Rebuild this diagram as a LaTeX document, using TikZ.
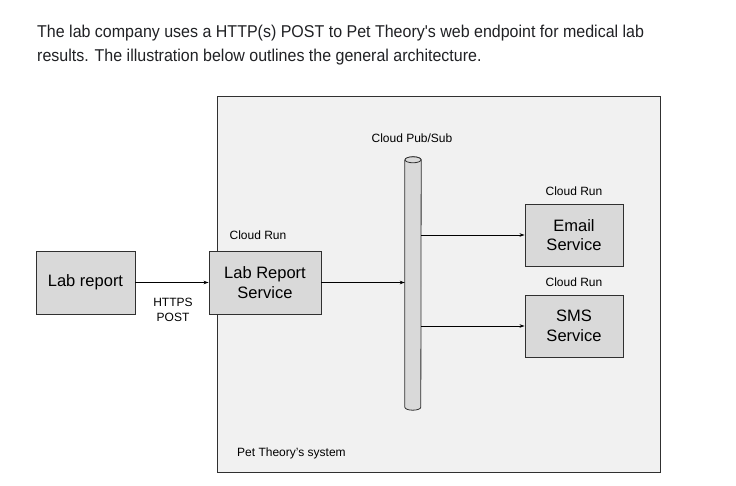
\documentclass[tikz,border=0pt]{standalone}
\usepackage{fontspec}
\setmainfont{Liberation Sans}
\usetikzlibrary{arrows.meta}
\definecolor{sysfill}{HTML}{F1F1F1}
\definecolor{boxfill}{HTML}{D9D9D9}
\definecolor{edge}{HTML}{303030}
\definecolor{headtext}{HTML}{202124}
\begin{document}
\begin{tikzpicture}[x=1pt,y=-1pt,
  svc/.style={draw=edge, line width=0.9pt, fill=boxfill, align=center, inner sep=0pt,
    font=\fontsize{16.5}{19.5}\selectfont},
  small/.style={font=\fontsize{12}{15}\selectfont, inner sep=0pt},
  conn/.style={draw=black, line width=0.8pt, -{Stealth[length=5pt,width=3.5pt]}},
  head/.style={font=\fontsize{16}{20}\selectfont, text=headtext, inner sep=0pt, anchor=base west}]
\useasboundingbox (0,0) rectangle (736,486);
\fill[white] (0,0) rectangle (736,486);
% header
\node[head] (h1) at (37,38) {\scalebox{1}[1.07]{The lab company uses a HTTP(s) POST to Pet Theory\textquotesingle s web endpoint for medical lab}};
\node[head] (h2) at (37,62) {\scalebox{1}[1.07]{results. The illustration below outlines the general architecture.}};
% system box
\node[draw=edge, line width=0.9pt, fill=sysfill, minimum width=443pt, minimum height=376pt, inner sep=0pt] (sys) at (438.5,284) {};
\node[small, anchor=base west] (systxt) at (237,456) {Pet Theory’s system};
% boxes
\node[svc, minimum width=99pt, minimum height=63pt] (lab) at (85.5,282.5) {Lab report};
\node[svc, minimum width=112pt, minimum height=63pt] (lrs) at (265,282.5) {Lab Report\\Service};
\node[svc, minimum width=98pt, minimum height=62pt] (email) at (574,235) {Email\\Service};
\node[svc, minimum width=98pt, minimum height=62pt] (sms) at (574,326) {SMS\\Service};
% labels
\node[small, anchor=base] (cr1) at (258,240) {Cloud Run};
\node[small, anchor=base] (cr2) at (574,196) {Cloud Run};
\node[small, anchor=base] (cr3) at (574,287) {Cloud Run};
\node[small, anchor=base] (ps) at (412,143) {Cloud Pub/Sub};
\node[small, align=center] (https) at (173,310) {HTTPS\\POST};
% pub/sub cylinder
\node[draw=none, minimum width=16pt, minimum height=253pt, inner sep=0pt] (pubsub) at (413,283.5) {};
\draw[draw=edge, line width=0.8pt, fill=boxfill]
  ([yshift=-3pt]pubsub.north west) -- ([yshift=3pt]pubsub.south west)
  arc[start angle=180, end angle=360, x radius=8pt, y radius=3pt]
  -- ([yshift=-3pt]pubsub.north east)
  arc[start angle=0, end angle=180, x radius=8pt, y radius=3pt];
\draw[draw=edge, line width=0.8pt, fill=boxfill] ([yshift=-3pt]pubsub.north) ellipse[x radius=8pt, y radius=3pt];
% connectors
\draw[conn] (lab.east) -- (lrs.west);
\draw[conn] (lrs.east) -- (lrs.east -| pubsub.west);
\draw[conn] (email.west -| pubsub.east) -- (email.west);
\draw[conn] (sms.west -| pubsub.east) -- (sms.west);
\end{tikzpicture}
\end{document}
